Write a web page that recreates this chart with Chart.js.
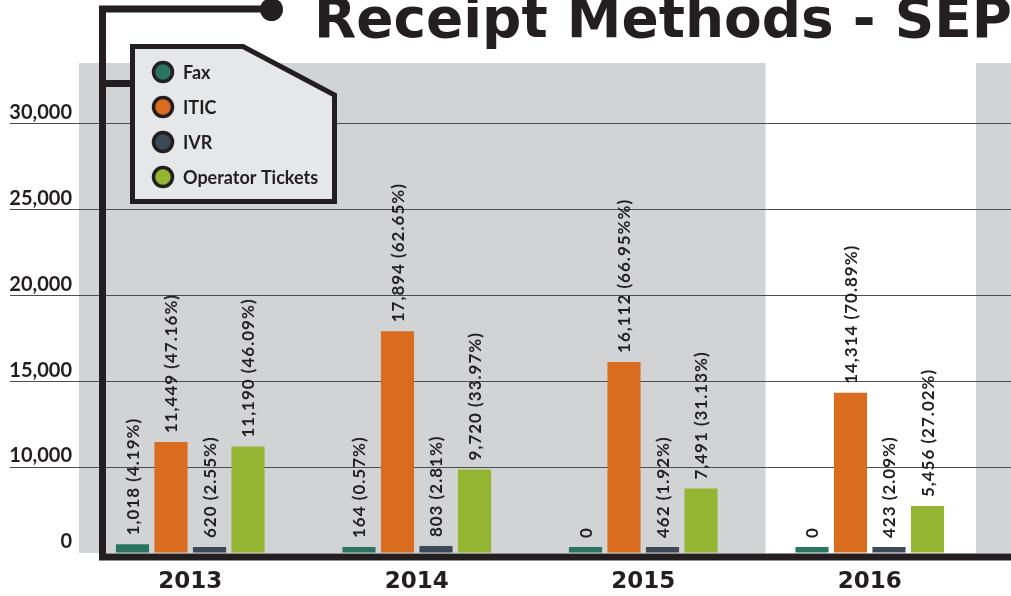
<!DOCTYPE html>
<html>
<head>
<meta charset="utf-8">
<script src="https://cdn.jsdelivr.net/npm/chart.js@4"></script>
<style>
  body { margin: 0; background: #fff; }
  canvas { display: block; }
</style>
</head>
<body>
<canvas id="chart_receipts" width="1011" height="596"></canvas>
<script>
var years = ['2013', '2014', '2015', '2016']
var fax = [1018, 164, 0, 0]
var itic = [11449, 17894, 16112, 14314]
var ivr = [620, 803, 462, 423]
var operatorTickets = [11190, 9720, 7491, 5456]

var faxLabels = ['1,018 (4.19%)', '164 (0.57%)', '0', '0']
var iticLabels = ['11,449 (47.16%)', '17,894 (62.65%)', '16,112 (66.95%%)', '14,314 (70.89%)']
var ivrLabels = ['620 (2.55%)', '803 (2.81%)', '462 (1.92%)', '423 (2.09%)']
var operatorLabels = ['11,190 (46.09%)', '9,720 (33.97%)', '7,491 (31.13%)', '5,456 (27.02%)']

var yTicks = [0, 10000, 15000, 20000, 25000, 30000]

var INK = '#231f20'
var GRID = '#4d4d4d'

// the axis in the original squeezes 0-10,000 into one 5,000 step
function fwd(v) { return v < 10000 ? v / 2 : v - 5000 }
function inv(t) { return t < 5000 ? t * 2 : t + 5000 }

class GapScale extends Chart.LinearScale {
    getPixelForValue(value) {
        var lo = fwd(this.min), hi = fwd(this.max)
        return this.getPixelForDecimal((fwd(value) - lo) / (hi - lo))
    }
    getValueForPixel(pixel) {
        var lo = fwd(this.min), hi = fwd(this.max)
        return inv(lo + this.getDecimalForPixel(pixel) * (hi - lo))
    }
}
GapScale.id = 'gap'
GapScale.defaults = Chart.LinearScale.defaults
Chart.register(GapScale)

var decor = {
    id: 'decor',
    beforeDraw: function (chart) {
        var ctx = chart.ctx, a = chart.chartArea
        ctx.save()
        ctx.fillStyle = '#d1d3d4'
        ctx.fillRect(a.left + 2, a.top, (a.right - a.left) * 0.76 - 2, a.bottom - a.top)
        ctx.fillRect(976, a.top, chart.width - 976, a.bottom - a.top)
        ctx.restore()
    },
    beforeDatasetsDraw: function (chart) {
        // carry the grid lines on to the right edge of the page
        var ctx = chart.ctx, a = chart.chartArea, y = chart.scales.y
        ctx.save()
        ctx.strokeStyle = GRID
        ctx.lineWidth = 1
        y.ticks.forEach(function (t) {
            if (t.value === 0) return
            var py = Math.round(y.getPixelForValue(t.value) - 0.5) + 0.5
            ctx.beginPath()
            ctx.moveTo(a.right - 1, py)
            ctx.lineTo(chart.width, py)
            ctx.stroke()
        })
        ctx.restore()
    },
    afterDatasetsDraw: function (chart) {
        var ctx = chart.ctx
        ctx.save()
        ctx.fillStyle = INK
        ctx.font = 'bold 17px Lato, "DejaVu Sans", sans-serif'
        try { ctx.letterSpacing = '1px' } catch (e) {}
        ctx.textAlign = 'left'
        ctx.textBaseline = 'middle'
        chart.data.datasets.forEach(function (ds, i) {
            chart.getDatasetMeta(i).data.forEach(function (bar, j) {
                ctx.save()
                ctx.translate(bar.x, bar.y - 9)
                ctx.rotate(-Math.PI / 2)
                ctx.fillText(ds.valueLabels[j], 0, 1)
                ctx.restore()
            })
        })
        ctx.restore()
    },
    afterDraw: function (chart) {
        var ctx = chart.ctx
        ctx.save()

        // title
        ctx.fillStyle = INK
        ctx.font = 'bold 56px "DejaVu Sans", sans-serif'
        ctx.textBaseline = 'alphabetic'
        var title = 'Receipt Methods - SEP'
        var w = ctx.measureText(title).width
        ctx.save()
        ctx.translate(314, 37)
        ctx.scale(698 / w, 1)
        ctx.fillText(title, 0, 0)
        ctx.restore()

        // frame
        ctx.strokeStyle = INK
        ctx.lineWidth = 7
        ctx.lineJoin = 'miter'
        ctx.beginPath()
        ctx.moveTo(272, 9)
        ctx.lineTo(102.5, 9)
        ctx.lineTo(102.5, 557)
        ctx.lineTo(chart.width, 557)
        ctx.stroke()
        ctx.beginPath()
        ctx.moveTo(102.5, 83.5)
        ctx.lineTo(134, 83.5)
        ctx.stroke()
        ctx.fillStyle = INK
        ctx.beginPath()
        ctx.arc(271.5, 9.5, 11.5, 0, Math.PI * 2)
        ctx.fill()

        // legend box
        ctx.fillStyle = '#e6e7e8'
        ctx.lineWidth = 5
        ctx.beginPath()
        ctx.moveTo(132.5, 46.5)
        ctx.lineTo(243, 46.5)
        ctx.lineTo(334.5, 95)
        ctx.lineTo(334.5, 201.5)
        ctx.lineTo(132.5, 201.5)
        ctx.closePath()
        ctx.fill()
        ctx.stroke()

        var rows = [72, 107, 142, 177]
        ctx.font = 'bold 18px Lato, "DejaVu Sans", sans-serif'
        ctx.textBaseline = 'middle'
        ctx.textAlign = 'left'
        chart.data.datasets.forEach(function (ds, i) {
            ctx.beginPath()
            ctx.arc(163, rows[i], 9.5, 0, Math.PI * 2)
            ctx.fillStyle = ds.backgroundColor
            ctx.fill()
            ctx.lineWidth = 3.5
            ctx.strokeStyle = INK
            ctx.stroke()
            ctx.fillStyle = INK
            ctx.fillText(ds.label, 183, rows[i] + 1)
        })
        ctx.restore()
    }
}

var ctx = document.getElementById('chart_receipts')

var chart_receipts = new Chart(ctx, {
    type: 'bar',
    data: {
        labels: years,
        datasets: [
            { label: 'Fax', data: fax, valueLabels: faxLabels, backgroundColor: '#2a7561' },
            { label: 'ITIC', data: itic, valueLabels: iticLabels, backgroundColor: '#d96c1f' },
            { label: 'IVR', data: ivr, valueLabels: ivrLabels, backgroundColor: '#3c4a58' },
            { label: 'Operator Tickets', data: operatorTickets, valueLabels: operatorLabels, backgroundColor: '#94b532' }
        ]
    },
    options: {
        responsive: false,
        animation: false,
        categoryPercentage: 0.68,
        barPercentage: 0.86,
        minBarLength: 6,
        layout: { padding: { top: 63, left: 10, right: 28, bottom: 0 } },
        plugins: {
            legend: { display: false },
            tooltip: { enabled: false }
        },
        scales: {
            x: {
                grid: { display: false, drawTicks: false },
                border: { display: false },
                ticks: {
                    color: INK,
                    padding: 15,
                    font: { family: '"DejaVu Sans", sans-serif', weight: 'bold', size: 23 }
                },
                afterFit: function (s) { s.height = 43 }
            },
            y: {
                type: 'gap',
                min: 0,
                max: 33500,
                afterBuildTicks: function (s) {
                    s.ticks = yTicks.map(function (v) { return { value: v } })
                },
                afterFit: function (s) { s.width = 67 },
                grid: {
                    color: function (c) { return c.tick && c.tick.value === 0 ? 'rgba(0,0,0,0)' : GRID },
                    lineWidth: 1,
                    drawTicks: true,
                    tickLength: 67
                },
                border: { display: false },
                ticks: {
                    color: INK,
                    padding: -62,
                    labelOffset: -11,
                    font: { family: 'Lato, "DejaVu Sans", sans-serif', weight: 'bold', size: 20 },
                    callback: function (v) { return v.toLocaleString('en-US') }
                }
            }
        }
    },
    plugins: [decor]
})
</script>
</body>
</html>
